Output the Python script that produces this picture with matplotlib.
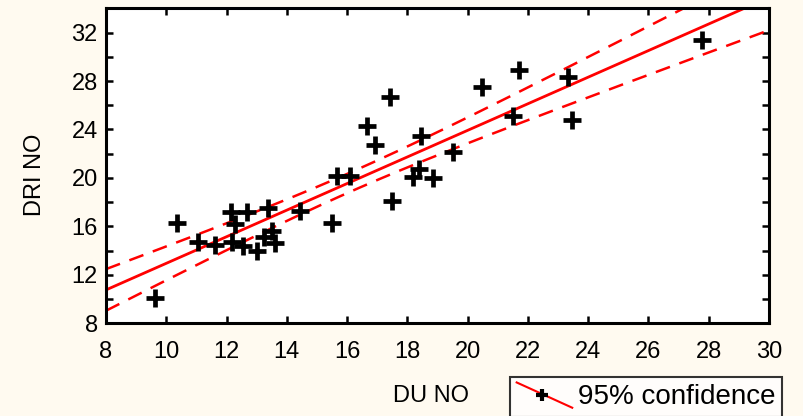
import numpy as np
import matplotlib
matplotlib.use("Agg")
import matplotlib.pyplot as plt
from matplotlib.lines import Line2D
from matplotlib.legend_handler import HandlerBase

# data
du_no = [9.64, 10.36, 11.07, 11.63, 12.15, 12.29, 12.18, 12.56, 12.68, 13.00,
         13.23, 13.37, 13.50, 13.61, 14.44, 15.49, 15.66, 16.10, 16.65, 16.93,
         17.43, 17.50, 18.20, 18.37, 18.44, 18.86, 19.52, 20.47, 21.51, 21.70,
         23.34, 23.47, 27.78]
dri_no = [10.1, 16.3, 14.7, 14.5, 17.2, 16.2, 14.7, 14.4, 17.2, 14.0,
          15.1, 17.5, 15.6, 14.6, 17.3, 16.3, 20.2, 20.15, 24.3, 22.75,
          26.7, 18.07, 20.07, 20.75, 23.5, 20.0, 22.1, 27.5, 25.1, 28.9,
          28.35, 24.8, 31.4]
x_ticks = list(range(8, 31, 2))
y_ticks = list(range(8, 33, 4))

plt.rcParams['font.family'] = ['Liberation Sans', 'DejaVu Sans']
bg = '#fffaf0'
fs = 17

x = np.array(du_no)
y = np.array(dri_no)
n = len(x)
slope, icpt = np.polyfit(x, y, 1)
resid = y - (icpt + slope * x)
s = np.sqrt(np.sum(resid ** 2) / (n - 2))
sxx = np.sum((x - x.mean()) ** 2)
xs = np.linspace(8, 30, 200)
fit = icpt + slope * xs
hw = 2.04 * s * np.sqrt(1.0 / n + (xs - x.mean()) ** 2 / sxx)

fig = plt.figure(figsize=(8.04, 4.16), dpi=100, facecolor=bg)
ax = fig.add_axes([0.1318, 0.2228, 0.8247, 0.7572])
ax.set_facecolor('white')

dash = (0, (6, 4))
ax.plot(xs, fit, color='red', lw=2, zorder=2)
ax.plot(xs, fit + hw, color='red', lw=1.8, ls=dash, zorder=2)
ax.plot(xs, fit - hw, color='red', lw=1.8, ls=dash, zorder=2)
ax.plot(x, y, ls='none', marker='+', ms=12.5, mew=3.4, color='black', zorder=3)

ax.set_xlim(8, 30)
ax.set_ylim(8, 34)
ax.set_xticks(x_ticks)
ax.set_yticks(y_ticks)
ax.set_yticks(range(10, 35, 4), minor=True)
ax.tick_params(which='both', direction='in', top=True, right=True,
               length=5, width=1.8, labelsize=fs)
ax.tick_params(axis='x', pad=13)
ax.tick_params(axis='y', pad=6)
for sp in ax.spines.values():
    sp.set_linewidth(2.2)

ax.set_xlabel('DU NO', fontsize=fs)
ax.set_ylabel('DRI NO', fontsize=fs)
ax.xaxis.set_label_coords(0.49, -0.195)
ax.yaxis.set_label_coords(-0.09, 0.47)


class DiagHandler(HandlerBase):
    def create_artists(self, legend, orig, xd, yd, w, h, fs, trans):
        ln = Line2D([-xd, -xd + w], [-yd + h * 1.1, -yd - h * 0.2],
                    color='red', lw=1.5, transform=trans)
        mk = Line2D([-xd + w * 0.45], [-yd + h * 0.45], ls='none',
                    marker='+', ms=9, mew=3, color='black', transform=trans)
        return [ln, mk]


h = Line2D([], [])
leg = fig.legend([h], ['95% confidence'], handler_map={Line2D: DiagHandler()},
                 loc='upper left', bbox_to_anchor=(0.634, 0.094),
                 fontsize=20, frameon=True, fancybox=False, handlelength=2.0,
                 handletextpad=0.2, borderpad=0.25, borderaxespad=0)
leg.get_frame().set_edgecolor('black')
leg.get_frame().set_linewidth(1.5)
leg.get_frame().set_facecolor('white')

fig.savefig('out.png', dpi=100, facecolor=bg)
